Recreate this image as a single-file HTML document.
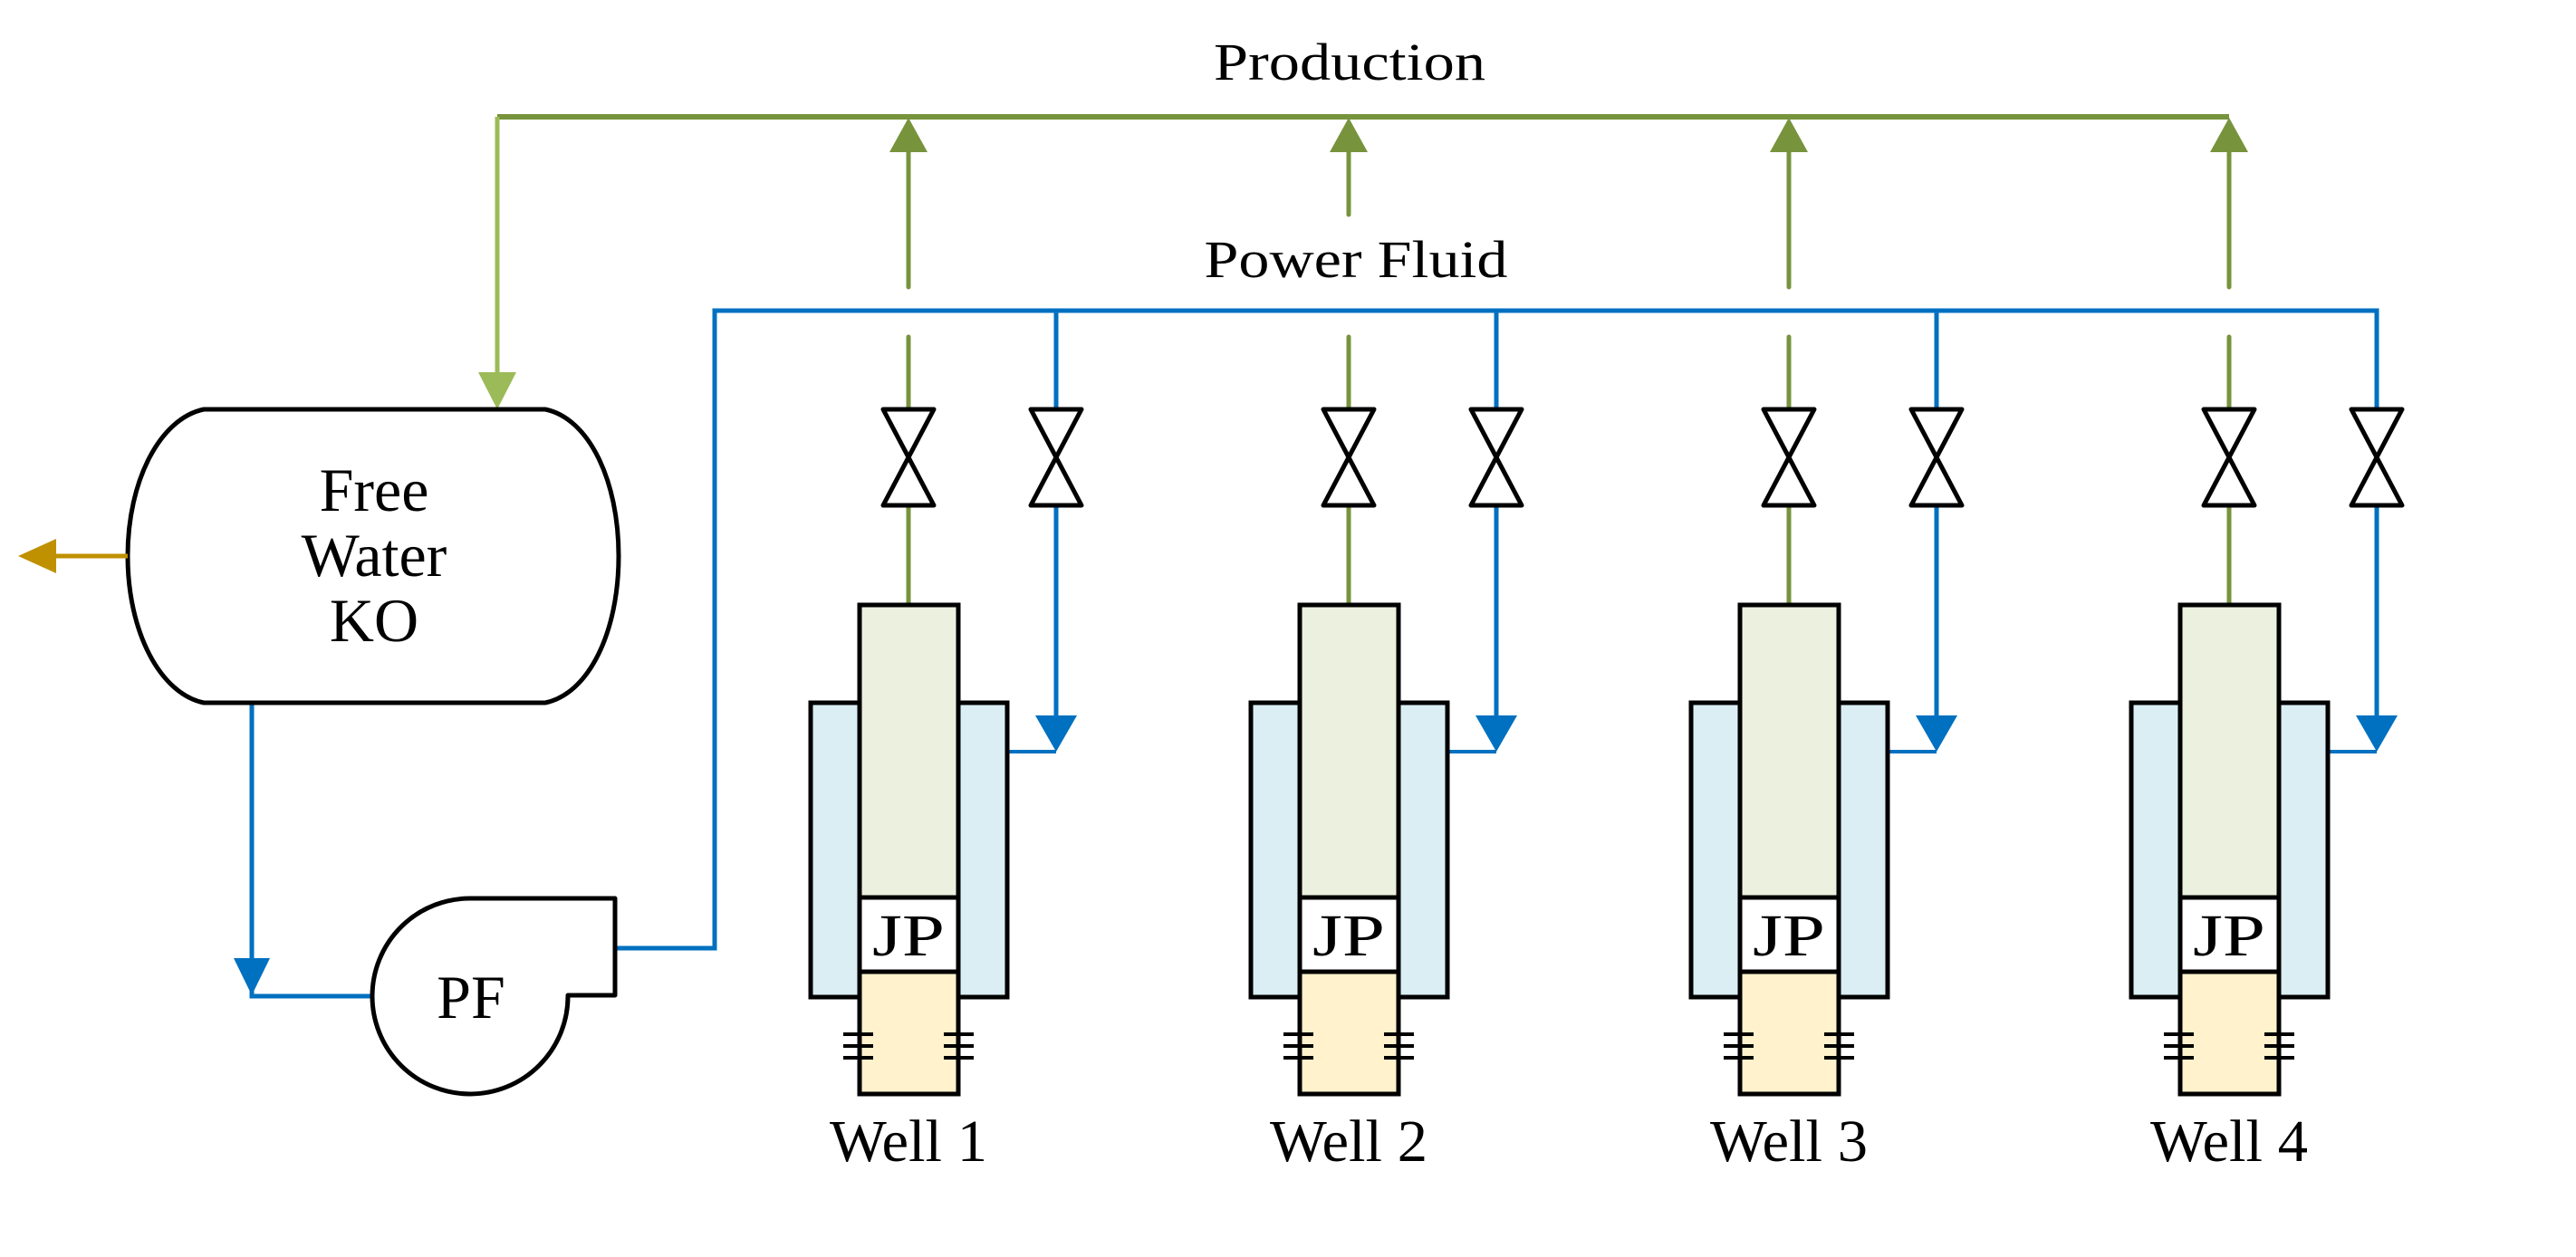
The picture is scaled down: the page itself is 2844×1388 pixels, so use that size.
<!DOCTYPE html>
<html><head><meta charset="utf-8"><style>html,body{margin:0;padding:0;background:#fff}svg{display:block}</style></head>
<body>
<svg width="2844" height="1388" viewBox="0 0 2844 1388" xmlns="http://www.w3.org/2000/svg" font-family="'Liberation Serif', serif">
<!-- Production header -->
<line x1="549" y1="129" x2="2461" y2="129" stroke="#77933C" stroke-width="6"/>
<line x1="549" y1="129" x2="549" y2="415" stroke="#9BBB59" stroke-width="5"/>
<polygon points="528,411 570,411 549,452" fill="#9BBB59"/>
<text x="1490" y="88" font-size="58" text-anchor="middle" textLength="300" lengthAdjust="spacingAndGlyphs">Production</text>
<!-- Power fluid header -->
<polyline points="411,1100 278,1100 278,776" fill="none" stroke="#0070C0" stroke-width="5"/>
<polygon points="258,1058 298,1058 278,1099" fill="#0070C0"/>
<polyline points="679,1047 789,1047 789,343 2624,343 2624,790" fill="none" stroke="#0070C0" stroke-width="5"/>
<text x="1497" y="306" font-size="58" text-anchor="middle" textLength="335" lengthAdjust="spacingAndGlyphs">Power Fluid</text>
<!-- Tank -->
<path d="M225,452 L602,452 C650,462 683,530 683,614 C683,698 650,766 602,776 L225,776 C177,766 141,698 141,614 C141,530 177,462 225,452 Z" fill="#fff" stroke="#000" stroke-width="5"/>
<line x1="141" y1="614" x2="60" y2="614" stroke="#BF9000" stroke-width="5"/>
<polygon points="62,595 62,633 20,614" fill="#BF9000"/>
<g font-size="68" text-anchor="middle">
<text x="413" y="564">Free</text>
<text x="413" y="636">Water</text>
<text x="413" y="708">KO</text>
</g>
<!-- Pump -->
<path d="M520,992 L679,992 L679,1099 L627,1099 A108,108 0 1 1 520,992 Z" fill="#fff" stroke="#000" stroke-width="5" stroke-linejoin="round"/>
<text x="520" y="1124" font-size="68" text-anchor="middle">PF</text>

<defs>
<g id="well">
  <line x1="0" y1="372" x2="0" y2="668" stroke="#77933C" stroke-width="5" stroke-linecap="round"/>
  <polygon points="-21,168 21,168 0,130" fill="#77933C"/>
  <polygon points="-28,452 28,452 -28,558 28,558" fill="#fff" stroke="#000" stroke-width="5" stroke-linejoin="round"/>
  <line x1="163" y1="343" x2="163" y2="795" stroke="#0070C0" stroke-width="5"/>
  <polygon points="135,452 191,452 135,558 191,558" fill="#fff" stroke="#000" stroke-width="5" stroke-linejoin="round"/>
  <polygon points="140,790 186,790 163,830" fill="#0070C0"/>
  <line x1="109" y1="830" x2="163" y2="830" stroke="#0070C0" stroke-width="4"/>
  <rect x="-108" y="776" width="217" height="325" fill="#DAEEF3" stroke="#000" stroke-width="5"/>
  <rect x="-54" y="668" width="109" height="323" fill="#EBF1DE" stroke="#000" stroke-width="5"/>
  <rect x="-54" y="991" width="109" height="82" fill="#fff" stroke="#000" stroke-width="5"/>
  <rect x="-54" y="1073" width="109" height="135" fill="#FFF2CC" stroke="#000" stroke-width="5"/>
  <text x="0" y="1055" font-size="66" text-anchor="middle" textLength="80" lengthAdjust="spacingAndGlyphs">JP</text>
  <g stroke="#000" stroke-width="4">
    <line x1="-72" y1="1142" x2="-39" y2="1142"/><line x1="-72" y1="1155" x2="-39" y2="1155"/><line x1="-72" y1="1168" x2="-39" y2="1168"/>
    <line x1="39" y1="1142" x2="72" y2="1142"/><line x1="39" y1="1155" x2="72" y2="1155"/><line x1="39" y1="1168" x2="72" y2="1168"/>
  </g>
</g>
</defs>
<g transform="translate(1003,0)"><use href="#well"/><line x1="0" y1="168" x2="0" y2="317" stroke="#77933C" stroke-width="5" stroke-linecap="round"/><text x="0" y="1282" font-size="66" text-anchor="middle" textLength="174" lengthAdjust="spacingAndGlyphs">Well 1</text></g>
<g transform="translate(1489,0)"><use href="#well"/><line x1="0" y1="168" x2="0" y2="237" stroke="#77933C" stroke-width="5" stroke-linecap="round"/><text x="0" y="1282" font-size="66" text-anchor="middle" textLength="174" lengthAdjust="spacingAndGlyphs">Well 2</text></g>
<g transform="translate(1975,0)"><use href="#well"/><line x1="0" y1="168" x2="0" y2="317" stroke="#77933C" stroke-width="5" stroke-linecap="round"/><text x="0" y="1282" font-size="66" text-anchor="middle" textLength="174" lengthAdjust="spacingAndGlyphs">Well 3</text></g>
<g transform="translate(2461,0)"><use href="#well"/><line x1="0" y1="168" x2="0" y2="317" stroke="#77933C" stroke-width="5" stroke-linecap="round"/><text x="0" y="1282" font-size="66" text-anchor="middle" textLength="174" lengthAdjust="spacingAndGlyphs">Well 4</text></g>
</svg>
</body></html>
